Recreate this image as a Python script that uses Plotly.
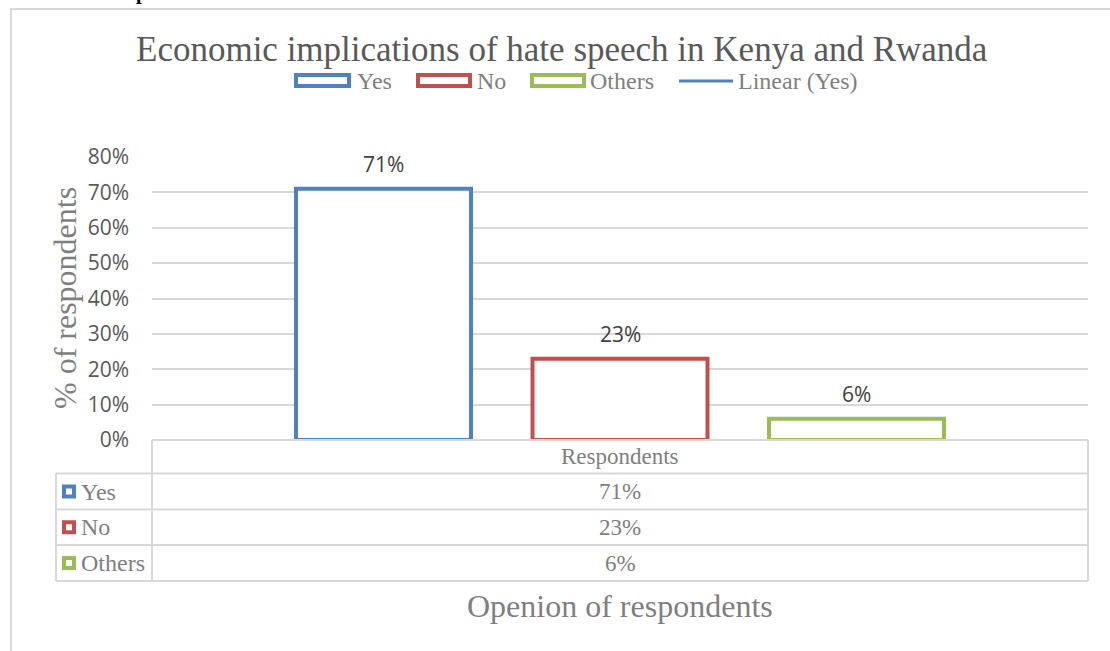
import plotly.graph_objects as go

# ---- data ----
category = "Respondents"
series_names = ["Yes", "No", "Others"]
series_values = [0.71, 0.23, 0.06]
series_colors = ["#4F81BD", "#C0504D", "#9BBB59"]
trend_name = "Linear (Yes)"
y_ticks = [0.0, 0.1, 0.2, 0.3, 0.4, 0.5, 0.6, 0.7, 0.8]

title_text = "Economic implications of hate speech in Kenya and Rwanda"
y_title_text = "% of respondents"
x_title_text = "Openion of respondents"

# ---- canvas / geometry helpers ----
W, H = 1110, 651
PLOT_L, PLOT_R, PLOT_T, PLOT_B = 152, 1088, 157, 440
BARGAP, BARGROUPGAP = 0.242, 0.26

SERIF = "Liberation Serif, Times New Roman, serif"
SANS = "Open Sans, Lato, sans-serif"
GRID = "#d9d9d9"


def px(x):
    return x / W


def py(y):
    return 1 - y / H


fig = go.Figure()

for name, val, col in zip(series_names, series_values, series_colors):
    fig.add_trace(go.Bar(
        name=name, x=[category], y=[val],
        marker=dict(color="white", line=dict(color=col, width=4)),
        showlegend=False, hoverinfo="skip",
    ))

shapes = []
annotations = []

# data labels above each bar (centre of each bar inside the group)
slot = (1 - BARGAP) / len(series_names)
for i, (val, name) in enumerate(zip(series_values, series_names)):
    annotations.append(dict(
        x=(i - (len(series_names) - 1) / 2) * slot, y=val, xref="x", yref="y",
        text=f"{round(val * 100)}%", showarrow=False, yanchor="middle", yshift=25,
        font=dict(family=SANS, size=21, color="#404040"),
    ))

# outer chart border
shapes.append(dict(type="rect", xref="paper", yref="paper",
                   x0=px(11), x1=px(W + 20), y0=py(9), y1=py(H + 20),
                   line=dict(color=GRID, width=2), fillcolor="rgba(0,0,0,0)", layer="below"))

# title
annotations.append(dict(x=px(562), y=py(50), xref="paper", yref="paper",
                        text=title_text, showarrow=False, xanchor="center", yanchor="middle",
                        font=dict(family=SERIF, size=35, color="#595959")))

# fragment of the document heading above the chart
annotations.append(dict(x=px(134), y=py(6), xref="paper", yref="paper",
                        text="<b>p</b>", showarrow=False, xanchor="left", yanchor="bottom",
                        font=dict(family=SERIF, size=20, color="#000000")))

# legend row
legend_boxes = [(296, 349, 355), (418, 470, 475), (532, 584, 588)]
for (x0, x1, tx), name, col in zip(legend_boxes, series_names, series_colors):
    shapes.append(dict(type="rect", xref="paper", yref="paper",
                       x0=px(x0), x1=px(x1), y0=py(86), y1=py(75),
                       line=dict(color=col, width=4), fillcolor="white"))
    annotations.append(dict(x=px(tx), y=py(81), xref="paper", yref="paper",
                            text=name, showarrow=False, xanchor="left", yanchor="middle",
                            font=dict(family=SERIF, size=24, color="#7f7f7f")))
shapes.append(dict(type="line", xref="paper", yref="paper",
                   x0=px(679), x1=px(733), y0=py(81), y1=py(81),
                   line=dict(color=series_colors[0], width=3)))
annotations.append(dict(x=px(736), y=py(81), xref="paper", yref="paper",
                        text=trend_name, showarrow=False, xanchor="left", yanchor="middle",
                        font=dict(family=SERIF, size=24, color="#7f7f7f")))

# y-axis title
annotations.append(dict(x=px(65), y=py(298), xref="paper", yref="paper",
                        text=y_title_text, showarrow=False, textangle=-90,
                        xanchor="center", yanchor="middle",
                        font=dict(family=SERIF, size=32, color="#7f7f7f")))

# data table under the plot
TBL_L, ROW_TOP = 56, [440, 473.5, 509.5, 545, 581]
for k, yy in enumerate(ROW_TOP):
    x0 = PLOT_L if k == 0 else TBL_L
    shapes.append(dict(type="line", xref="paper", yref="paper",
                       x0=px(x0), x1=px(PLOT_R), y0=py(yy), y1=py(yy),
                       line=dict(color=GRID, width=2)))
shapes.append(dict(type="line", xref="paper", yref="paper",
                   x0=px(TBL_L), x1=px(TBL_L), y0=py(ROW_TOP[1]), y1=py(ROW_TOP[-1]),
                   line=dict(color=GRID, width=2)))
for xx in (PLOT_L, PLOT_R):
    shapes.append(dict(type="line", xref="paper", yref="paper",
                       x0=px(xx), x1=px(xx), y0=py(ROW_TOP[0]), y1=py(ROW_TOP[-1]),
                       line=dict(color=GRID, width=2)))

mid_x = (PLOT_L + PLOT_R) / 2
annotations.append(dict(x=px(mid_x), y=py((ROW_TOP[0] + ROW_TOP[1]) / 2), xref="paper", yref="paper",
                        text=category, showarrow=False, xanchor="center", yanchor="middle",
                        font=dict(family=SERIF, size=23, color="#7f7f7f")))
for r, (name, val, col) in enumerate(zip(series_names, series_values, series_colors)):
    cy = (ROW_TOP[r + 1] + ROW_TOP[r + 2]) / 2
    shapes.append(dict(type="rect", xref="paper", yref="paper",
                       x0=px(64), x1=px(74), y0=py(cy + 5), y1=py(cy - 5),
                       line=dict(color=col, width=4), fillcolor="white"))
    annotations.append(dict(x=px(79), y=py(cy), xref="paper", yref="paper",
                            text=name, showarrow=False, xanchor="left", yanchor="middle",
                            font=dict(family=SERIF, size=24, color="#7f7f7f")))
    annotations.append(dict(x=px(mid_x), y=py(cy), xref="paper", yref="paper",
                            text=f"{round(val * 100)}%", showarrow=False,
                            xanchor="center", yanchor="middle",
                            font=dict(family=SERIF, size=23, color="#7f7f7f")))

# x-axis title
annotations.append(dict(x=px(mid_x), y=py(606), xref="paper", yref="paper",
                        text=x_title_text, showarrow=False, xanchor="center", yanchor="middle",
                        font=dict(family=SERIF, size=32, color="#7f7f7f")))

fig.update_layout(
    width=W, height=H,
    margin=dict(l=0, r=0, t=0, b=0, autoexpand=False),
    paper_bgcolor="white", plot_bgcolor="white",
    barmode="group", bargap=BARGAP, bargroupgap=BARGROUPGAP,
    showlegend=False,
    xaxis=dict(domain=[px(PLOT_L), px(PLOT_R)], showticklabels=False, showgrid=False,
               showline=False, zeroline=False, ticks="", fixedrange=True, automargin=False),
    yaxis=dict(domain=[py(PLOT_B), py(PLOT_T)], range=[0, 0.8],
               tickmode="array", tickvals=y_ticks, tickformat=".0%",
               showgrid=True, gridcolor=GRID, gridwidth=1.5, automargin=False,
               zeroline=False, showline=False, ticks="", ticklabelstandoff=22,
               tickfont=dict(family=SANS, size=21, color="#595959")),
    shapes=shapes,
    annotations=annotations,
)

fig.write_html("out.html")
